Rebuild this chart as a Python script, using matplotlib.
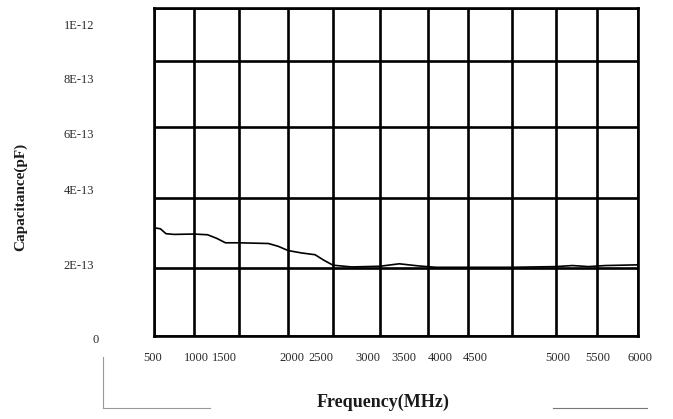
import numpy as np
import matplotlib
matplotlib.use('Agg')
import matplotlib.pyplot as plt
from matplotlib.lines import Line2D

plt.rcParams['font.family'] = ['Liberation Serif', 'DejaVu Serif']

# measured curve, frequency in MHz, capacitance in F
freq = [500, 580, 650, 750, 1000, 1150, 1250, 1350, 1500, 1800, 1900, 2000,
        2150, 2300, 2400, 2500, 2700, 3000, 3200, 3400, 3600, 4000, 4500,
        5000, 5200, 5400, 5600, 6000]
cap = [3.15, 3.12, 2.98, 2.96, 2.97, 2.95, 2.85, 2.72, 2.72, 2.70, 2.62, 2.50,
       2.43, 2.38, 2.22, 2.08, 2.03, 2.05, 2.12, 2.06, 2.02, 2.02, 2.02,
       2.04, 2.07, 2.04, 2.07, 2.09]
cap = [c * 1e-13 for c in cap]

x_grid = [500, 1000, 1500, 2000, 2500, 3000, 3500, 4000, 4500, 5000, 5500, 6000]
y_grid = [0, 2e-13, 4e-13, 6e-13, 8e-13, 1e-12]
x_labels = ['500', '1000', '1500', '2000', '2500', '3000', '3500', '4000',
            '4500', '5000', '5500', '6000']
y_labels = ['0', '2E-13', '4E-13', '6E-13', '8E-13', '1E-12']

# the scanned chart is not quite linear: where the grid lines really sit (pixels)
x_grid_px = [154, 194, 239, 288, 333, 380, 428, 468, 512, 556, 597, 638]
y_grid_px = [83, 151, 221, 292, 358, 411]   # measured from the bottom
# where the tick labels sit (pixels)
x_label_px = [153, 196, 224, 292, 321, 368, 404, 440, 475, 558, 598, 640]
y_label_px = [340, 266, 191, 135, 80, 26]   # measured from the top
y_label_x = [96, 79, 79, 79, 79, 79]

W, H = 673, 419


def warp(src, dst):
    src = np.asarray(src, float)
    dst = np.asarray(dst, float)
    # linear extension on both sides so the mapping never clamps
    s = np.r_[src[0] - (src[1] - src[0]) * 100, src, src[-1] + (src[-1] - src[-2]) * 100]
    d = np.r_[dst[0] - (dst[1] - dst[0]) * 100, dst, dst[-1] + (dst[-1] - dst[-2]) * 100]
    fwd = lambda v: np.interp(v, s, d)
    inv = lambda v: np.interp(v, d, s)
    return fwd, inv


fig = plt.figure(figsize=(W / 100, H / 100), dpi=100)
ax = fig.add_axes([154 / W, 83 / H, (638 - 154) / W, (411 - 83) / H])

ax.set_xscale('function', functions=warp(x_grid, x_grid_px))
ax.set_yscale('function', functions=warp(y_grid, y_grid_px))
ax.set_xlim(500, 6000)
ax.set_ylim(0, 1e-12)

ax.plot(freq, cap, color='black', lw=1.2)

ax.set_xticks(x_grid)
ax.set_yticks(y_grid)
ax.tick_params(length=0, labelbottom=False, labelleft=False)
ax.grid(True, color='black', lw=1.9)
for s in ax.spines.values():
    s.set_linewidth(1.9)
    s.set_color('black')

for lab, px in zip(x_labels, x_label_px):
    fig.text(px / W, 1 - 358 / H, lab, ha='center', va='center',
             fontsize=9, color='#2a2a2a')
for lab, px, py in zip(y_labels, y_label_x, y_label_px):
    fig.text(px / W, 1 - py / H, lab, ha='center', va='center',
             fontsize=9, color='#2a2a2a')

fig.text(383 / W, 1 - 402 / H, 'Frequency(MHz)', ha='center', va='center',
         fontsize=13, fontweight='bold', color='#1a1a1a')
fig.text(21 / W, 1 - 197 / H, 'Capacitance(pF)', ha='center', va='center',
         rotation=90, fontsize=11, fontweight='bold', color='#1a1a1a')

# faint scan leftovers under the axis
fig.add_artist(Line2D([103 / W, 103 / W], [1 - 357 / H, 1 - 408 / H],
                      color='#999999', lw=0.8))
fig.add_artist(Line2D([103 / W, 210 / W], [1 - 408 / H, 1 - 408 / H],
                      color='#999999', lw=0.8))
fig.add_artist(Line2D([553 / W, 647 / W], [1 - 408 / H, 1 - 408 / H],
                      color='#777777', lw=0.8))

fig.savefig('out.png', dpi=100)
